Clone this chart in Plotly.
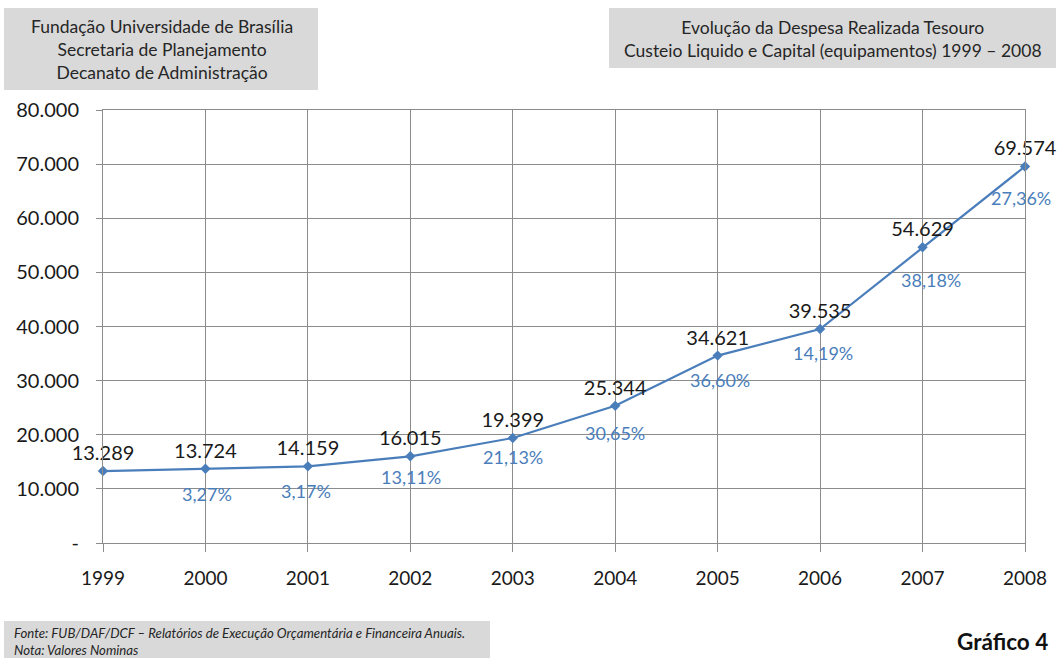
import plotly.graph_objects as go

years = [1999, 2000, 2001, 2002, 2003, 2004, 2005, 2006, 2007, 2008]
values = [13289, 13724, 14159, 16015, 19399, 25344, 34621, 39535, 54629, 69574]
value_labels = ["13.289", "13.724", "14.159", "16.015", "19.399", "25.344", "34.621", "39.535", "54.629", "69.574"]
growth_years = [2000, 2001, 2002, 2003, 2004, 2005, 2006, 2007, 2008]
growth_values = [13724, 14159, 16015, 19399, 25344, 34621, 39535, 54629, 69574]
growth_labels = ["3,27%", "3,17%", "13,11%", "21,13%", "30,65%", "36,60%", "14,19%", "38,18%", "27,36%"]
y_tickvals = [0, 10000, 20000, 30000, 40000, 50000, 60000, 70000, 80000]
y_ticktext = ["-", "10.000", "20.000", "30.000", "40.000", "50.000", "60.000", "70.000", "80.000"]

W_PX, H_PX = 1058, 658
L, R, T, B = 103, 33, 110, 115
PW = W_PX - L - R
PH = H_PX - T - B

def xp(px):
    return (px - L) / PW

def yp(py):
    return (H_PX - B - py) / PH

FONT = "Lato"
BLUE = "#4a7ebb"
TXT = "#1a1a1a"

fig = go.Figure()
fig.add_trace(go.Scatter(
    x=years, y=values, mode="lines+markers+text",
    line=dict(color=BLUE, width=2.2),
    marker=dict(symbol="diamond", size=8, color=BLUE),
    text=value_labels, textposition="top center",
    textfont=dict(family=FONT, size=20, color=TXT),
    cliponaxis=False, showlegend=False, hoverinfo="skip",
))

# growth labels below points
pct_shift = [(2, -25), (-2, -25), (1, -21), (0, -19), (0, -27), (2, -24), (3, -24), (8, -33), (-4, -32)]
for gx, gy, gl, (dx, dy) in zip(growth_years, growth_values, growth_labels, pct_shift):
    fig.add_annotation(x=gx, y=gy, xref="x", yref="y", text=gl, showarrow=False,
                       xshift=dx, yshift=dy, font=dict(family=FONT, size=18, color=BLUE))

GRID = "#8c8c8c"
fig.update_xaxes(
    range=[1999, 2008], tickvals=years, ticktext=[str(y) for y in years],
    showgrid=True, gridcolor=GRID, gridwidth=1,
    showline=True, linecolor=GRID, linewidth=1, mirror=True,
    ticks="outside", ticklen=8, tickcolor=GRID, ticklabelstandoff=10,
    tickfont=dict(family=FONT, size=19, color=TXT), zeroline=False,
)
fig.update_yaxes(
    range=[0, 80000], tickvals=y_tickvals, ticktext=y_ticktext,
    showgrid=True, gridcolor=GRID, gridwidth=1,
    showline=True, linecolor=GRID, linewidth=1, mirror=True,
    ticks="outside", ticklen=6, tickcolor=GRID, ticklabelstandoff=13,
    tickfont=dict(family=FONT, size=20, color=TXT), zeroline=False,
)

BOX = "#d9d9d9"
shapes = [
    dict(type="rect", xref="paper", yref="paper", x0=xp(4), x1=xp(318), y0=yp(90), y1=yp(8),
         fillcolor=BOX, line=dict(width=0), layer="below"),
    dict(type="rect", xref="paper", yref="paper", x0=xp(609), x1=xp(1056), y0=yp(68), y1=yp(8),
         fillcolor=BOX, line=dict(width=0), layer="below"),
    dict(type="rect", xref="paper", yref="paper", x0=xp(4), x1=xp(490), y0=yp(658), y1=yp(621),
         fillcolor=BOX, line=dict(width=0), layer="below"),
]
fig.update_layout(shapes=shapes)

fig.add_annotation(xref="paper", yref="paper", x=xp(162), y=yp(49), xanchor="center", yanchor="middle",
                   text="Fundação Universidade de Brasília<br>Secretaria de Planejamento<br>Decanato de Administração",
                   showarrow=False, align="center", font=dict(family=FONT, size=17.5, color="#262626"))
fig.add_annotation(xref="paper", yref="paper", x=xp(833), y=yp(39), xanchor="center", yanchor="middle",
                   text="Evolução da Despesa Realizada Tesouro<br>Custeio Liquido e Capital (equipamentos) 1999 – 2008",
                   showarrow=False, align="center", font=dict(family=FONT, size=17.5, color="#262626"))
fig.add_annotation(xref="paper", yref="paper", x=xp(12), y=yp(641), xanchor="left", yanchor="middle",
                   text="<i>Fonte: FUB/DAF/DCF – Relatórios de Execução Orçamentária e Financeira Anuais.<br>Nota: Valores Nominas</i>",
                   showarrow=False, align="left", font=dict(family=FONT, size=13.2, color="#262626"))
fig.add_annotation(xref="paper", yref="paper", x=xp(1050), y=yp(641), xanchor="right", yanchor="middle",
                   text="<b>Gráfico 4</b>", showarrow=False,
                   font=dict(family=FONT, size=22.5, color="#111111"))

fig.update_layout(
    width=W_PX, height=H_PX,
    margin=dict(l=L, r=R, t=T, b=B),
    paper_bgcolor="white", plot_bgcolor="white",
    showlegend=False,
)
fig.write_html("out.html")
